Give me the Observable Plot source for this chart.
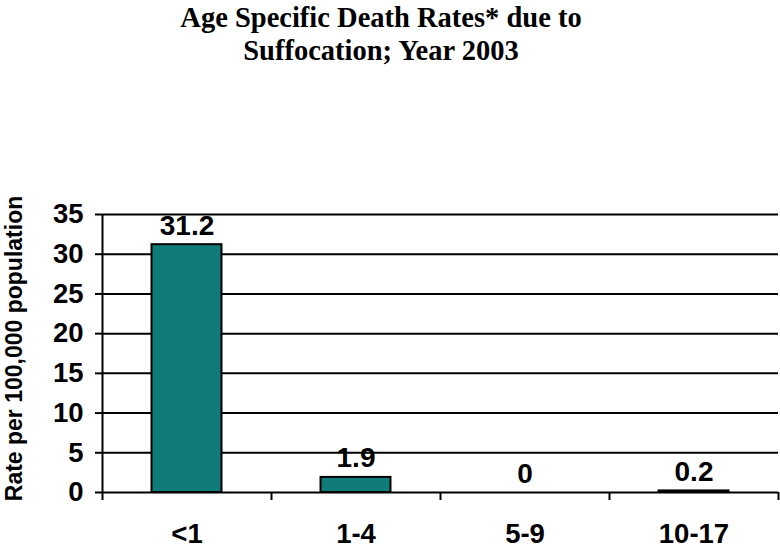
<!DOCTYPE html>
<html><head><meta charset="utf-8">
<script src="https://cdn.jsdelivr.net/npm/d3@7"></script>
<script src="https://cdn.jsdelivr.net/npm/@observablehq/plot@0.6"></script>
<style>
body{margin:0;background:#fff;}
#wrap{position:relative;width:780px;height:549px;overflow:hidden;}
#title{position:absolute;left:0;top:1px;width:762px;text-align:center;font:bold 28.5px/33px "Liberation Serif","Times New Roman",serif;color:#000;}
</style></head><body>
<div id="wrap"><div id="title">Age Specific Death Rates* due to<br>Suffocation; Year 2003</div></div>
<script>
const categories = ["<1", "1-4", "5-9", "10-17"];
const rates = [31.2, 1.9, 0, 0.2];
const rateLabels = ["31.2", "1.9", "0", "0.2"];
const yTicks = [0, 5, 10, 15, 20, 25, 30, 35];
const yTitle = "Rate per 100,000 population";

const data = categories.map((cat, i) => ({cat, rate: rates[i], label: rateLabels[i], i}));
const BAR_HALF = 0.207;
const TEAL = "#107C7A";
const boundaries = d3.range(0, categories.length + 1);
const centers = categories.map((_, i) => i + 0.5);

const chart = Plot.plot({
  width: 780,
  height: 549,
  marginLeft: 102,
  marginRight: 2,
  marginTop: 214,
  marginBottom: 57,
  style: {fontFamily: "'Liberation Sans', Arial, sans-serif", fontWeight: "bold", color: "#000", background: "transparent"},
  x: {type: "linear", domain: [0, categories.length]},
  y: {domain: [0, 35]},
  marks: [
    Plot.ruleY(yTicks, {stroke: "#000", strokeWidth: 2}),
    Plot.rectY(data, {x1: d => d.i + 0.5 - BAR_HALF, x2: d => d.i + 0.5 + BAR_HALF, y: "rate", fill: TEAL, stroke: "#000", strokeWidth: 2}),
    Plot.ruleX([0], {stroke: "#000", strokeWidth: 2}),
    Plot.axisY({ticks: yTicks, tickSize: 7, tickPadding: 12, strokeWidth: 2, fontSize: 27.5, fontWeight: "bold", label: null}),
    Plot.axisX({ticks: boundaries, tickSize: 8, tickFormat: () => "", strokeWidth: 2, label: null}),
    Plot.axisX({ticks: centers, tickSize: 0, tickPadding: 31, tickFormat: v => categories[Math.floor(v)], fontSize: 27.5, fontWeight: "bold", label: null}),
    Plot.text(data, {x: d => d.i + 0.5, y: "rate", text: "label", lineAnchor: "bottom", dy: -10, fontSize: 28, fontWeight: "bold", fill: "#000"}),
    Plot.text([yTitle], {frameAnchor: "left", textAnchor: "middle", rotate: -90, dx: -88, dy: -5, fontSize: 23, fontWeight: "bold", fill: "#000"})
  ]
});
const wrap = document.getElementById("wrap");
wrap.insertBefore(chart, wrap.firstChild);
</script>
</body></html>
